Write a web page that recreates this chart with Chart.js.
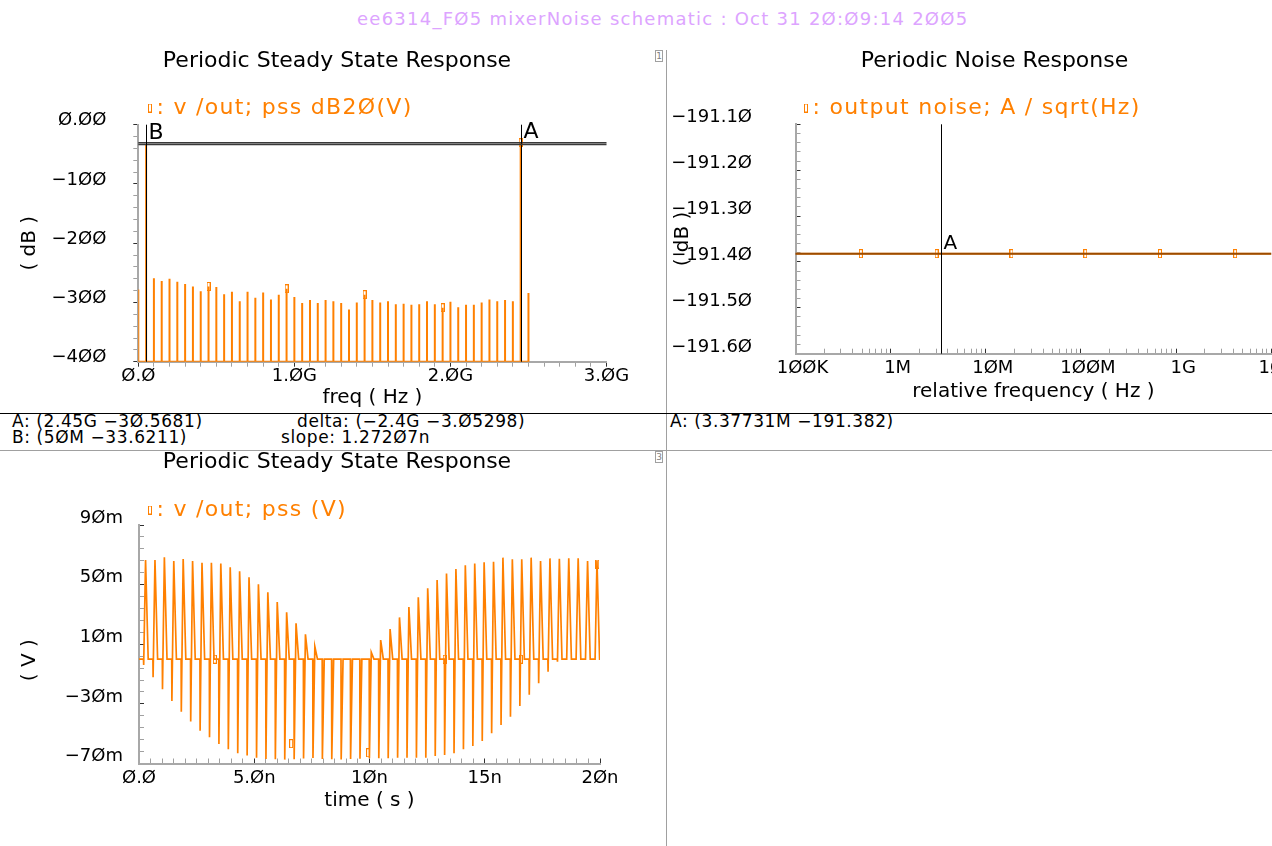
<!DOCTYPE html>
<html>
<head>
<meta charset="utf-8">
<title>mixerNoise</title>
<script src="https://cdn.jsdelivr.net/npm/chart.js@4.4.1/dist/chart.umd.min.js"></script>
<style>
  html, body { margin:0; padding:0; background:#fff; }
  #page { position:relative; width:1272px; height:846px; overflow:hidden; background:#fff; font-family:"DejaVu Sans", sans-serif; }
  #page canvas { position:absolute; }
  .txt { position:absolute; white-space:pre; }
  #hdr { left:357px; top:8px; color:#dda4ff; font-size:18px; letter-spacing:1.25px; line-height:22px; }
  .ro { font-size:17px; letter-spacing:0.6px; line-height:16px; color:#000; }
  .ln { position:absolute; }
  .box { width:6px; height:10px; border:1px solid #a0a0a0; font-size:9px; line-height:10px; text-align:center; color:#808080; }
</style>
</head>
<body>
<div id="page">
  <div id="hdr" class="txt">ee6314_FØ5 mixerNoise schematic : Oct 31 2Ø:Ø9:14 2ØØ5</div>
  <div class="ln" style="left:666px;top:50px;width:1px;height:796px;background:#a0a0a0"></div>
  <div class="ln" style="left:0;top:413px;width:1272px;height:1px;background:#000"></div>
  <div class="ln" style="left:0;top:450px;width:1272px;height:1px;background:#a0a0a0"></div>
  <div class="box txt" style="left:655px;top:50px">1</div>
  <div class="box txt" style="left:655px;top:451px">3</div>
  <div class="ro txt" style="left:12px;top:413px">A: (2.45G −3Ø.5681)</div>
  <div class="ro txt" style="left:297px;top:413px">delta: (−2.4G −3.Ø5298)</div>
  <div class="ro txt" style="left:12px;top:429px">B: (5ØM −33.6211)</div>
  <div class="ro txt" style="left:281px;top:429px">slope: 1.272Ø7n</div>
  <div class="ro txt" style="left:670px;top:413px">A: (3.37731M −191.382)</div>
  <canvas id="cSpec" width="666" height="373" style="left:0;top:40px"></canvas>
  <canvas id="cNoise" width="633" height="373" style="left:667px;top:40px"></canvas>
  <canvas id="cTime" width="666" height="406" style="left:0;top:440px"></canvas>
</div>
<script>
// ---------------- DATA ----------------
// Periodic Steady State Response (harmonics, MHz) and dB20 values
const specFreqMHz = [0,50,100,150,200,250,300,350,400,450,500,550,600,650,700,750,800,850,900,950,
  1000,1050,1100,1150,1200,1250,1300,1350,1400,1450,1500,1550,1600,1650,1700,1750,1800,1850,1900,1950,
  2000,2050,2100,2150,2200,2250,2300,2350,2400,2450,2500];
const specDb = [-278,-33.6211,-259,-264,-260,-265,-269,-273,-281,-273,-274,-286,-282,-298,-282,-292,-283,-295,-287,-277,
  -291,-301,-296,-301,-296,-298,-301,-312,-300,-287,-296,-300,-298,-303,-302,-304,-303,-298,-303,-309,
  -299,-308,-304,-304,-300,-295,-298,-296,-298,-30.5681,-284];
const specFloorDb = -400;
const specSymbolIdx = [9,19,29,39,49];
const specMarkerNames = ['A','B'];
const specMarkerHz = [2.45e9, 50e6];
const specMarkerDb = [-30.5681, -33.6211];
const specXTickVals = [0,1e9,2e9,3e9];
const specXTickLabels = ['Ø.Ø','1.ØG','2.ØG','3.ØG'];
const specYTickVals = [0,-100,-200,-300,-400];
const specYTickLabels = ['Ø.ØØ','−1ØØ','−2ØØ','−3ØØ','−4ØØ'];

// Periodic Noise Response
const noiseFreqHz = [1e5, 4.86e5, 3.04e6, 1.86e7, 1.11e8, 6.76e8, 4.17e9, 1e10];
const noiseVal = [-191.382,-191.382,-191.382,-191.382,-191.382,-191.382,-191.382,-191.382];
const noiseSymbolIdx = [1,2,3,4,5,6];
const noiseMarkerNames = ['A'];
const noiseMarkerHz = [3.37731e6];
const noiseMarkerVal = [-191.382];
const noiseXTickVals = [1e5,1e6,1e7,1e8,1e9,1e10];
const noiseXTickLabels = ['1ØØK','1M','1ØM','1ØØM','1G','1ØG'];
const noiseYTickVals = [-191.1,-191.2,-191.3,-191.4,-191.5,-191.6];
const noiseYTickLabels = ['−191.1Ø','−191.2Ø','−191.3Ø','−191.4Ø','−191.5Ø','−191.6Ø'];

// Periodic Steady State Response (time, ns / mV): per carrier cycle peaks
const timeFirstEdgeNs = 0.195;
const timePeriodNs = 0.408;
const timeBaseline = 0;
const timeEndNs = 20;
const timePosPeak = [66.5,66.5,68.3,65.8,67.2,65.8,64.7,64.7,64.1,61.6,58.9,54.9,50.2,44.8,38.4,31.4,24.0,16.7,8.4,
  0,0,0,0,0,4.6,12.8,20.2,28.0,35.0,41.5,47.5,53.1,57.4,60.5,63.0,64.1,65.0,65.4,68.1,67.0,67.0,68.1,65.8,67.6,67.4,67.6,67.6,65.8,66.0];
const timeNegDip = [-3.9,-12.2,-20.2,-28.1,-35.2,-41.9,-48.0,-52.4,-56.9,-60.5,-63.2,-64.7,-66.1,-67.0,-67.2,-67.4,-67.2,-66.7,-66.3,
  -67.0,-67.2,-67.3,-67.0,-66.8,-66.5,-66.5,-66.5,-66.1,-66.1,-66.1,-66.1,-65.0,-64.3,-63.2,-60.5,-58.2,-54.9,-49.7,-44.2,-38.6,-31.4,-23.8,-16.2,-8.4,-1.7,0,0,0,0];
const timeSymbolNs = [3.29, 6.60, 9.94, 13.26, 16.57, 19.88];
const timeSymbolMv = [0, -56.7, -62.8, 0, 0, 63.8];
const timeXTickVals = [0,5,10,15,20];
const timeXTickLabels = ['Ø.Ø','5.Øn','1Øn','15n','2Øn'];
const timeYTickVals = [90,50,10,-30,-70];
const timeYTickLabels = ['9Øm','5Øm','1Øm','−3Øm','−7Øm'];

// ---------------- STYLE / HELPERS ----------------
const ORANGE = '#ff8000';
const LEGEND_SPACING = '1.3px';
Chart.defaults.font.family = '"DejaVu Sans", sans-serif';
Chart.defaults.color = '#000';
Chart.defaults.animation = false;

function symbolImg(w, off) {
  const c = document.createElement('canvas'); c.width = w; c.height = 9;
  const g = c.getContext('2d');
  g.fillStyle = ORANGE; g.fillRect(off, 0, 4, 9);
  g.fillStyle = '#fff'; g.fillRect(off + 1, 1, 2, 7);
  return c;
}
const markImg = symbolImg(4, 0);
const legImg = symbolImg(18, 12);

function tickList(min, max, step) {
  const out = []; const n = Math.round((max - min) / step);
  for (let i = 0; i <= n; i++) out.push(+(min + i * step).toFixed(10));
  return out;
}
function logTickList(min, max) {
  const out = [];
  for (let d = min; d <= max * 1.0001; d *= 10)
    for (let m = 1; m <= 9; m++) { const v = m * d; if (v <= max * 1.0001) out.push(v); }
  return out;
}
function labelFor(v, vals, labs) {
  for (let i = 0; i < vals.length; i++)
    if (Math.abs(v - vals[i]) <= 1e-6 * Math.max(1, Math.abs(vals[i]))) return labs[i];
  return '';
}
function axis(o) {
  return {
    type: o.type || 'linear', position: o.position, min: o.min, max: o.max,
    afterBuildTicks: s => { s.ticks = o.ticks.map(v => ({ value: v })); },
    afterFit: s => { if (o.width != null) s.width = o.width; if (o.height != null) s.height = o.height; },
    ticks: { autoSkip: false, maxRotation: 0, minRotation: 0, font: { size: 18 }, color: '#000',
      padding: o.pad, labelOffset: o.labelOffset || 0, crossAlign: o.crossAlign || 'near',
      callback: v => labelFor(v, o.majors, o.labels) },
    grid: { drawOnChartArea: false, drawTicks: true, tickLength: o.tickLen, tickWidth: 1,
      tickColor: c => (c.tick && labelFor(c.tick.value, o.majors, o.labels) !== '') ? '#303030' : '#a0a0a0' },
    border: { display: true, color: '#a8a8a8', width: 2 },
    title: { display: true, text: o.title, font: { size: 20 }, color: '#000', padding: o.titlePad }
  };
}
function placer(titleXY, legendXY) {
  return { id: 'placer', afterLayout(chart) {
    const H = Chart.helpers;
    const t = chart.titleBlock;
    if (t) {
      const f = H.toFont(t.options.font), p = H.toPadding(t.options.padding);
      const dx = titleXY[0] - (t.left + t.right) / 2, dy = titleXY[1] - (t.top + p.top + f.lineHeight / 2);
      t.left += dx; t.right += dx; t.top += dy; t.bottom += dy;
    }
    const l = chart.legend;
    if (l) {
      const pad = l.options.labels.padding, fs = H.toFont(l.options.labels.font).size;
      const dx = legendXY[0] - (l.left + pad), dy = legendXY[1] - (l.top + pad + fs / 2);
      l.left += dx; l.right += dx; l.top += dy; l.bottom += dy;
      if (!l._spacingPatched) {
        const orig = l.draw;
        l.draw = function () {
          const c = this.ctx; const prev = c.letterSpacing;
          c.letterSpacing = LEGEND_SPACING; orig.apply(this, arguments); c.letterSpacing = prev;
        };
        l._spacingPatched = true;
      }
    }
  }};
}
function markerLines(names, xs, ys, fontSize, hColor, hWidth) {
  return { id: 'markerLines', afterDatasetsDraw(chart) {
    const { ctx, chartArea: a, scales } = chart;
    ctx.save();
    ctx.fillStyle = '#000'; ctx.font = fontSize + 'px "DejaVu Sans", sans-serif';
    ctx.textAlign = 'left'; ctx.textBaseline = 'bottom';
    names.forEach((n, i) => {
      const px = Math.round(scales.x.getPixelForValue(xs[i])) + 0.5;
      const py = scales.y.getPixelForValue(ys[i]);
      ctx.strokeStyle = hColor; ctx.lineWidth = hWidth;
      ctx.beginPath(); ctx.moveTo(a.left, py); ctx.lineTo(a.right, py); ctx.stroke();
      ctx.strokeStyle = '#000'; ctx.lineWidth = 1;
      ctx.beginPath(); ctx.moveTo(px, a.top); ctx.lineTo(px, a.bottom); ctx.stroke();
      ctx.fillText(n, px + 2, py);
    });
    ctx.restore();
  }};
}
function legendCfg(text) {
  return { display: true, position: 'top', align: 'start',
    labels: { usePointStyle: true, boxWidth: 1, padding: 10, font: { size: 22 }, color: ORANGE,
      generateLabels: () => [{ text: ': ' + text, pointStyle: legImg, fontColor: ORANGE,
        fillStyle: ORANGE, strokeStyle: ORANGE, lineWidth: 0, hidden: false, datasetIndex: 0 }] } };
}
function titleCfg(text, pt, pb) {
  return { display: true, text: text, color: '#000', font: { size: 22, weight: 'normal' }, padding: { top: pt, bottom: pb } };
}

// ---------------- CHART 1: spectrum ----------------
const specPts = [];
specFreqMHz.forEach((f, i) => {
  const hz = f * 1e6;
  specPts.push({ x: hz, y: specFloorDb }, { x: hz, y: specDb[i] }, { x: hz, y: specFloorDb });
});
const specLabel = 'v /out; pss dB2Ø(V)';
new Chart(document.getElementById('cSpec'), {
  type: 'scatter',
  data: { datasets: [
    { label: specLabel, data: specPts, showLine: true, borderColor: ORANGE, borderWidth: 2, pointRadius: 0, tension: 0 },
    { label: 'symbols', data: specSymbolIdx.map(i => ({ x: specFreqMHz[i] * 1e6, y: specDb[i] })), showLine: false,
      pointStyle: markImg, pointRadius: 4 }
  ]},
  options: {
    responsive: false, animation: false, events: [],
    layout: { padding: { left: 8, right: 59.5, top: 0, bottom: 0 } },
    plugins: { tooltip: { enabled: false }, title: titleCfg('Periodic Steady State Response', 7.8, 8.5), legend: legendCfg(specLabel) },
    scales: {
      x: axis({ position: 'bottom', min: 0, max: 3e9, ticks: tickList(0, 3e9, 1e8), majors: specXTickVals, labels: specXTickLabels,
        tickLen: 5, pad: -1.5, height: 51.3, title: 'freq ( Hz )', titlePad: { top: 0, bottom: 3 } }),
      y: axis({ position: 'left', min: -400, max: 0, ticks: tickList(-400, 0, 20), majors: specYTickVals, labels: specYTickLabels,
        tickLen: 5, pad: 27, labelOffset: -4, width: 130.3, title: '( dB )', titlePad: { top: 10, bottom: 0 } })
    }
  },
  plugins: [placer([337, 21], [144.5, 68]), markerLines(specMarkerNames, specMarkerHz, specMarkerDb, 22, '#3a3a3a', 1.5)]
});

// ---------------- CHART 2: noise ----------------
const noiseLabel = 'output noise; A / sqrt(Hz)';
new Chart(document.getElementById('cNoise'), {
  type: 'scatter',
  data: { datasets: [
    { label: noiseLabel, data: noiseFreqHz.map((f, i) => ({ x: f, y: noiseVal[i] })), showLine: true,
      borderColor: ORANGE, borderWidth: 2, pointRadius: 0 },
    { label: 'symbols', data: noiseSymbolIdx.map(i => ({ x: noiseFreqHz[i], y: noiseVal[i] })), showLine: false,
      pointStyle: markImg, pointRadius: 4 }
  ]},
  options: {
    responsive: false, animation: false, events: [],
    layout: { padding: { left: 0, right: 28, top: 0, bottom: 0 } },
    plugins: { tooltip: { enabled: false }, title: titleCfg('Periodic Noise Response', 7.8, 8.1), legend: legendCfg(noiseLabel) },
    scales: {
      x: axis({ type: 'logarithmic', position: 'bottom', min: 1e5, max: 1e10, ticks: logTickList(1e5, 1e10), majors: noiseXTickVals, labels: noiseXTickLabels,
        tickLen: -5, pad: 8.9, labelOffset: 7, height: 58.7, title: 'relative frequency ( Hz )', titlePad: { top: 0, bottom: 9 } }),
      y: axis({ position: 'left', min: -191.6, max: -191.1, ticks: tickList(-191.6, -191.1, 0.02), majors: noiseYTickVals, labels: noiseYTickLabels,
        tickLen: -5, pad: 48.5, labelOffset: -6.5, width: 128.5, title: '( dB )', titlePad: { top: 4, bottom: 0 } })
    }
  },
  plugins: [placer([327.5, 21], [133.5, 68]), markerLines(noiseMarkerNames, noiseMarkerHz, noiseMarkerVal, 20, 'rgba(90,40,0,0.6)', 2)]
});

// ---------------- CHART 3: time waveform ----------------
const wave = [{ x: 0, y: timeBaseline }];
timePosPeak.forEach((pos, k) => {
  const t0 = timeFirstEdgeNs + k * timePeriodNs;
  wave.push({ x: t0, y: timeBaseline },
            { x: t0 + 0.02 * timePeriodNs, y: timeNegDip[k] },
            { x: t0 + 0.22 * timePeriodNs, y: pos },
            { x: t0 + 0.5 * timePeriodNs, y: timeBaseline });
});
wave.push({ x: timeEndNs, y: timeBaseline });
const timeLabel = 'v /out; pss (V)';
new Chart(document.getElementById('cTime'), {
  type: 'scatter',
  data: { datasets: [
    { label: timeLabel, data: wave, showLine: true, borderColor: ORANGE, borderWidth: 1.7, pointRadius: 0, tension: 0 },
    { label: 'symbols', data: timeSymbolNs.map((t, i) => ({ x: t, y: timeSymbolMv[i] })), showLine: false,
      pointStyle: markImg, pointRadius: 4 }
  ]},
  options: {
    responsive: false, animation: false, events: [],
    layout: { padding: { left: 8, right: 66, top: 0, bottom: 0 } },
    plugins: { tooltip: { enabled: false }, title: titleCfg('Periodic Steady State Response', 8.8, 7.8), legend: legendCfg(timeLabel) },
    scales: {
      x: axis({ position: 'bottom', min: 0, max: 20, ticks: tickList(0, 20, 0.5), majors: timeXTickVals, labels: timeXTickLabels,
        tickLen: -5, pad: 8.7, height: 82.5, title: 'time ( s )', titlePad: { top: 0, bottom: 33 } }),
      y: axis({ position: 'left', min: -70, max: 90, ticks: tickList(-70, 90, 8), majors: timeYTickVals, labels: timeYTickLabels,
        tickLen: -5, pad: 21, labelOffset: -7, width: 131, title: '( V )     ', titlePad: { top: 10, bottom: 0 } })
    }
  },
  plugins: [placer([337, 22], [144.5, 70])]
});
</script>
</body>
</html>
